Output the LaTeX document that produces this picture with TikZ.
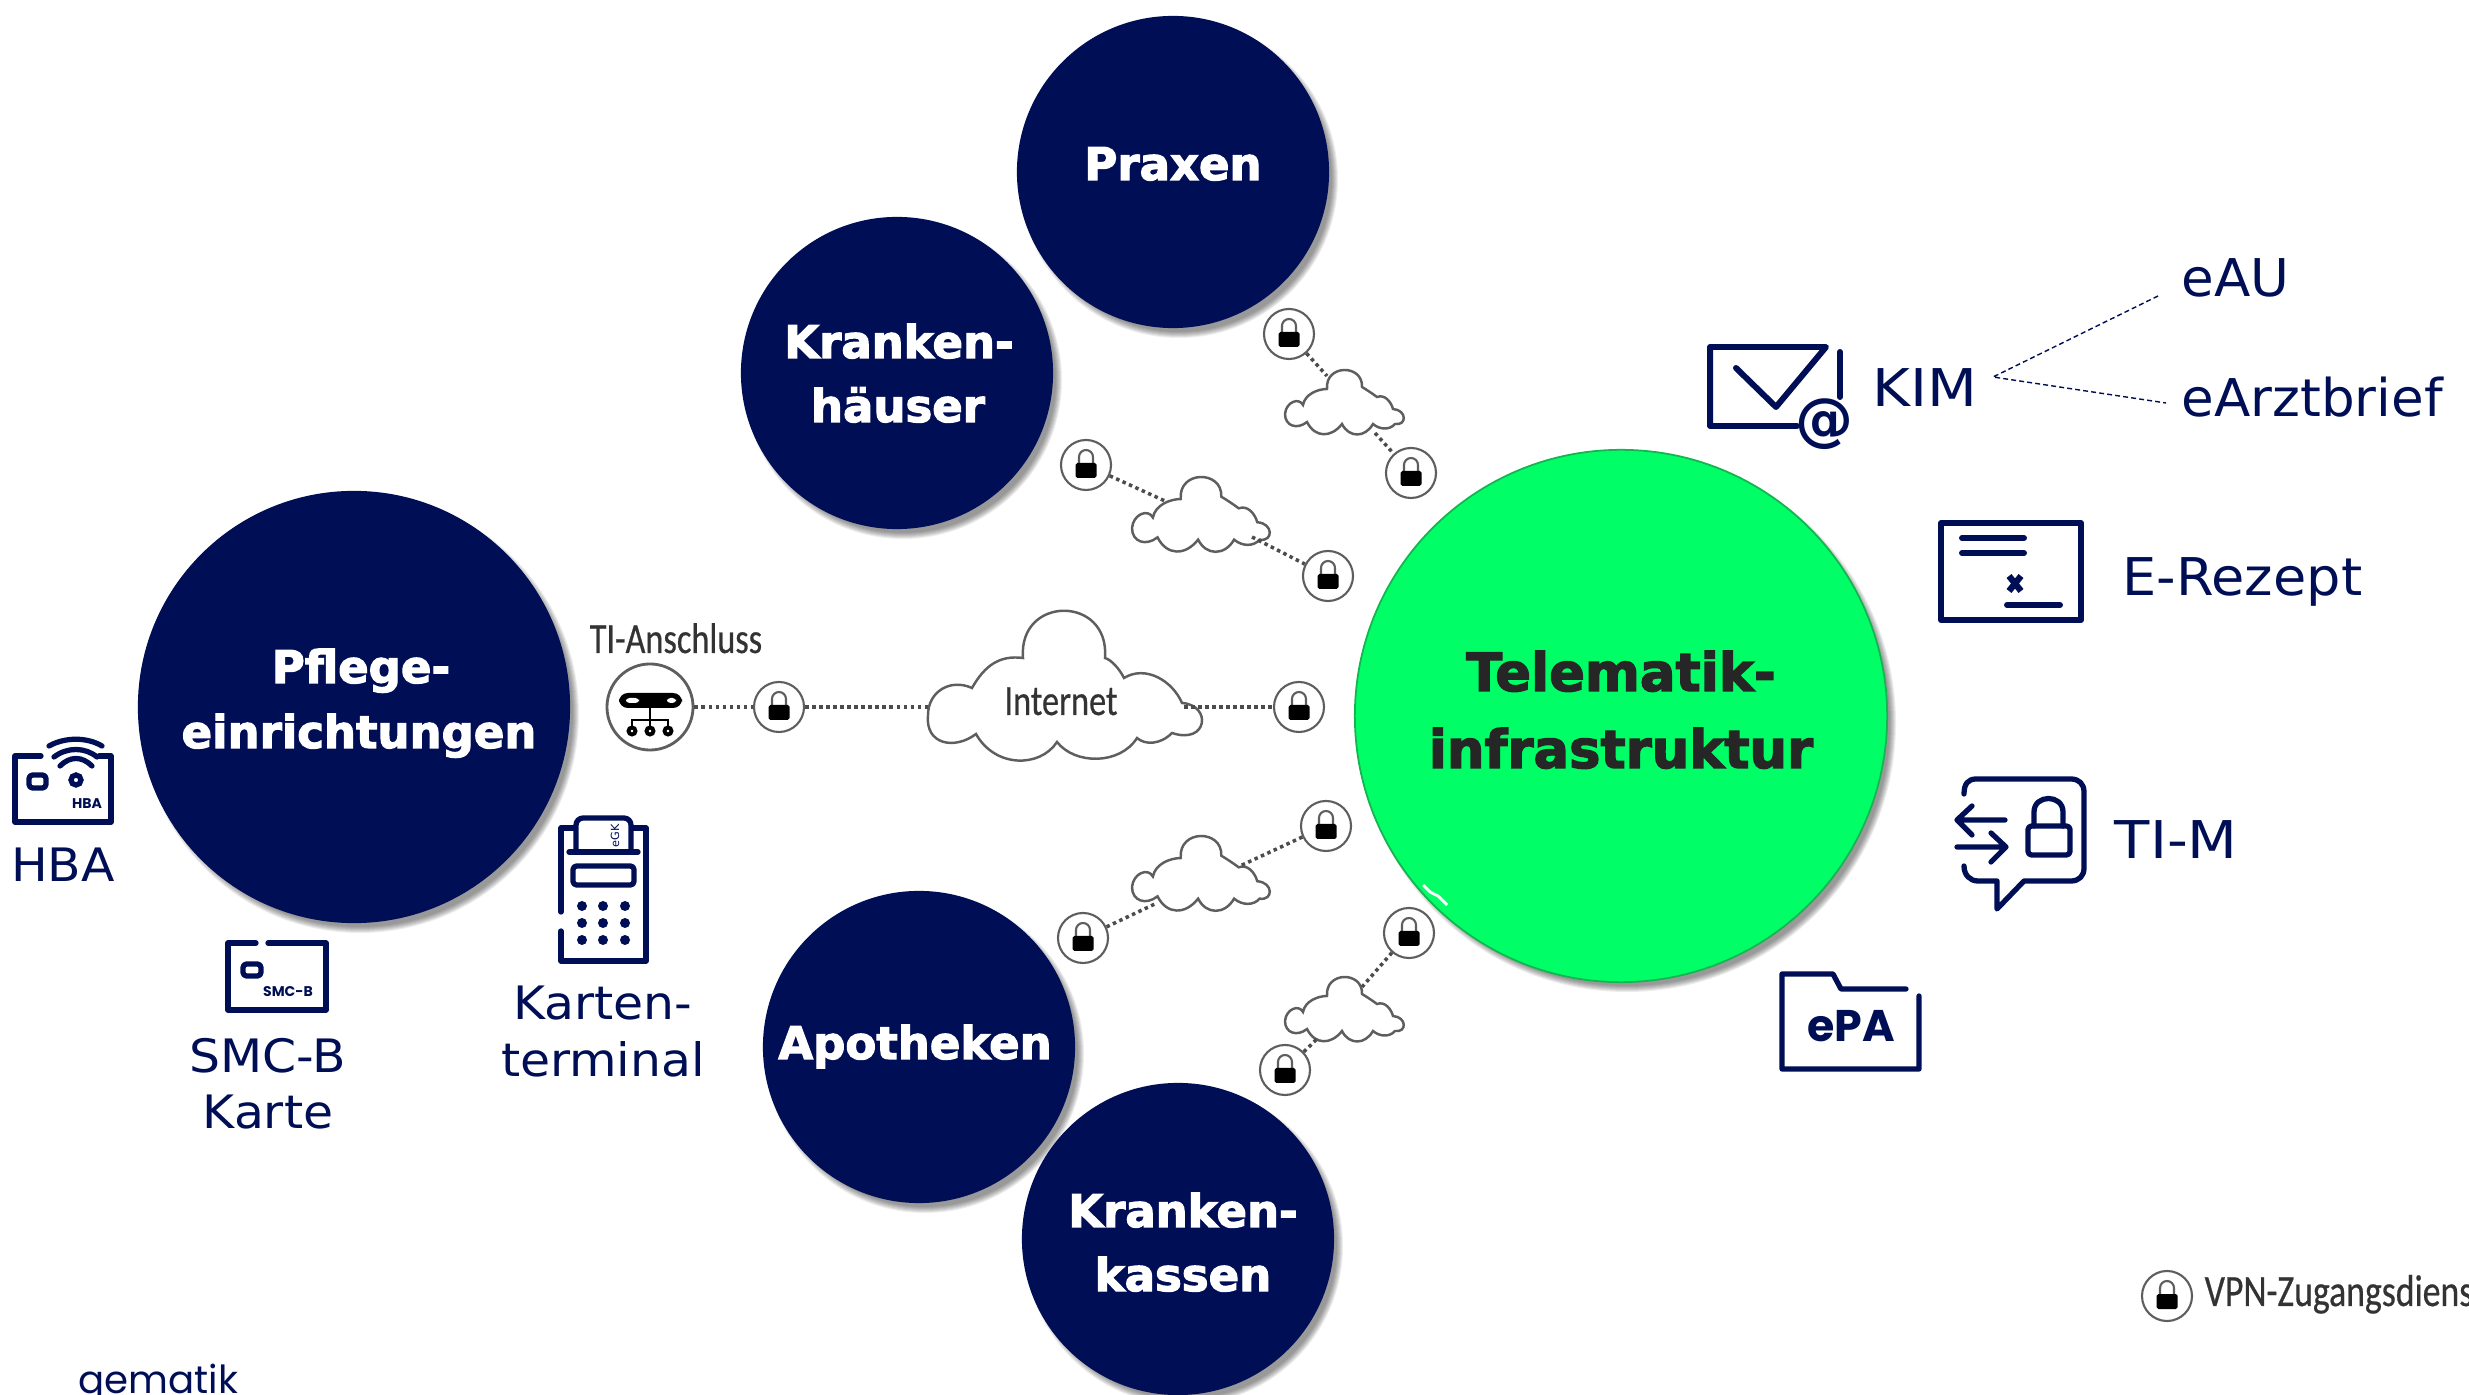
\documentclass[tikz,border=0pt]{standalone}
\usepackage{fontspec}
\setmainfont{DejaVu Sans}
\newfontfamily\heavy[BoldFeatures={FakeBold=2.6}]{DejaVu Sans}
\newfontfamily\blur[FakeStretch=0.8,FakeBold=0.5]{Carlito}
\newfontfamily\pop{Poppins}
\newfontfamily\vera[FakeStretch=1.06]{DejaVu Sans}
\newfontfamily\veraw[FakeStretch=1.11]{DejaVu Sans}
\newfontfamily\veran[FakeStretch=1.02]{DejaVu Sans}
\newfontfamily\verae[FakeStretch=1.04]{DejaVu Sans}
\usetikzlibrary{calc}
\definecolor{navy}{HTML}{000F55}
\definecolor{tigreen}{HTML}{00FF66}
\definecolor{tiedge}{HTML}{14B450}
\definecolor{ring}{HTML}{5E5E5E}
\tikzset{
  navycirc/.style={circle,fill=navy,inner sep=0pt},
  greencirc/.style={circle,fill=tigreen,draw=tiedge,line width=.5pt,inner sep=0pt},
  base/.style={anchor=base,inner sep=0pt},
  wt/.style={base,text=white,font=\fontsize{12.8}{15}\selectfont\heavy\bfseries},
  dt/.style={base,text=black!85,font=\fontsize{15}{18}\selectfont\heavy\bfseries},
  lbl/.style={base,text=navy,font=\fontsize{13.1}{15}\selectfont\vera},
  lbr/.style={base,text=navy,font=\fontsize{14.8}{17}\selectfont\verae},
  lbw/.style={base,text=navy,font=\fontsize{14.8}{17}\selectfont\veraw},
  lbn/.style={base,text=navy,font=\fontsize{14.8}{17}\selectfont\veran},
  small/.style={base,text=navy,font=\fontsize{4}{5}\selectfont\pop\bfseries},
  grayt/.style={base,text=black!80,font=\fontsize{12.2}{14}\selectfont\blur},
  ringnode/.style={circle,draw=ring,line width=.6pt,fill=white,inner sep=0pt,minimum size=.5cm},
  dots/.style={draw=black!70,line width=1pt,dash pattern=on 1pt off 1pt},
  cloudline/.style={draw=ring,line width=.7pt,fill=white},
  icon/.style={draw=navy,line width=1.5pt,line cap=round,line join=round},
  iconb/.style={draw=navy,line width=1.7pt,line cap=round,line join=round},
  kimline/.style={draw=navy,line width=.4pt,dash pattern=on 1.4pt off .9pt},
}
\newcommand\softshadow[3]{%
  \foreach \i in {0,1,2,3,4,5,6}{\fill[black,opacity=.07] (#1+6,#2+7) circle[radius=#3+3-\i];}}
\newcommand\locknode[3]{%
  \node[ringnode] (#1) at (#2,#3) {};
  \draw[ring,line width=.6pt] ($(#1)+(-7,0)$) -- ++(0,-8) arc[start angle=180,end angle=360,x radius=7,y radius=7] -- ++(0,8);
  \fill[black,rounded corners=.5pt] ($(#1)+(-10.5,-2)$) rectangle ($(#1)+(10.5,13)$);}
\newcommand\smallcloud[3]{%
  \begin{scope}[shift={(#1,#2)},xscale=#3,yscale=#3]
  \path[cloudline] (0,44) .. controls (1,32) and (14,27) .. (18,35)
    .. controls (20,24) and (33,19) .. (42,19)
    .. controls (40,-6) and (78,-6) .. (77,17)
    .. controls (82,20) and (88,24) .. (92,27)
    .. controls (100,24) and (106,32) .. (108,39)
    .. controls (122,40) and (122,56) .. (110,54)
    .. controls (105,60) and (95,60) .. (88,54)
    .. controls (80,68) and (64,68) .. (57,54)
    .. controls (46,68) and (30,68) .. (22,52)
    .. controls (12,60) and (0,56) .. cycle;
  \end{scope}}
\begin{document}
\begin{tikzpicture}[x=0.01cm,y=-0.01cm]
\useasboundingbox (0,0) rectangle (2469,1395);
\clip (0,0) rectangle (2469,1395);

% shadows and circles
\softshadow{1173}{172}{156}
\softshadow{897}{373}{156}
\softshadow{354}{707}{216}
\softshadow{919}{1047}{156}
\softshadow{1178}{1239}{156}
\softshadow{1621}{716}{266}
\node[navycirc,minimum size=3.12cm] (praxen) at (1173,172) {};
\node[navycirc,minimum size=3.12cm] (khaus) at (897,373) {};
\node[navycirc,minimum size=4.32cm] (pflege) at (354,707) {};
\node[navycirc,minimum size=3.12cm] (apo) at (919,1047) {};
\node[navycirc,minimum size=3.12cm] (kasse) at (1178,1239) {};
\node[greencirc,minimum size=5.32cm] (ti) at (1621,716) {};
\draw[white,line width=.8pt] (1423,885) -- (1430,892) -- (1438,896) -- (1447,905);

\node[wt] (t1) at (1173,180) {Praxen};
\node[wt] (t2) at (899,358) {Kranken-};
\node[wt] (t3) at (898,422) {häuser};
\node[wt] (t4) at (361,683) {Pflege-};
\node[wt] (t5) at (359,748) {einrichtungen};
\node[wt] (t6) at (915,1059) {Apotheken};
\node[wt] (t7) at (1183,1227) {Kranken-};
\node[wt] (t8) at (1183,1291) {kassen};
\node[dt] (t9) at (1621,691) {Telematik-};
\node[dt] (t10) at (1621,768) {infrastruktur};

% small clouds
\smallcloud{1285}{370}{1}
\smallcloud{1132}{477}{1.16}
\smallcloud{1132}{836}{1.16}
\smallcloud{1285}{977}{1}
\coordinate (c1a) at (1327,376);
\coordinate (c1b) at (1375,433);
\coordinate (c2a) at (1165,501);
\coordinate (c2b) at (1252,537);
\coordinate (c3a) at (1240,866);
\coordinate (c3b) at (1157,903);
\coordinate (c4a) at (1362,987);
\coordinate (c4b) at (1317,1039);
\locknode{l1}{1289}{334}
\locknode{l2}{1411}{473}
\locknode{l3}{1086}{465}
\locknode{l4}{1328}{576}
\locknode{l5}{1326}{826}
\locknode{l6}{1083}{938}
\locknode{l7}{1409}{933}
\locknode{l8}{1285}{1070}
\draw[dots] (l1) -- (c1a);
\draw[dots] (c1b) -- (l2);
\draw[dots] (l3) -- (c2a);
\draw[dots] (c2b) -- (l4);
\draw[dots] (l5) -- (c3a);
\draw[dots] (l6) -- (c3b);
\draw[dots] (l7) -- (c4a);
\draw[dots] (l8) -- (c4b);

% internet row
\path[cloudline] (928,715) .. controls (928,692) and (950,678) .. (972,688)
  .. controls (985,665) and (1000,655) .. (1023,658)
  .. controls (1018,595) and (1110,595) .. (1105,658)
  .. controls (1112,660) and (1120,670) .. (1124,678)
  .. controls (1145,665) and (1172,680) .. (1182,703)
  .. controls (1212,705) and (1208,745) .. (1172,733)
  .. controls (1160,745) and (1145,745) .. (1137,738)
  .. controls (1120,765) and (1075,765) .. (1057,742)
  .. controls (1040,768) and (995,768) .. (976,734)
  .. controls (955,750) and (925,745) .. cycle;
\node[grayt] (inet) at (1061,715) {Internet};
\node[grayt,anchor=base west] (tia) at (589,653) {TI-Anschluss};
\node[circle,draw=ring,line width=.8pt,fill=white,inner sep=0pt,minimum size=.86cm] (tinode) at (650,707) {};
\fill[black,rounded corners=2.5pt] (619,693) rectangle (682,708);
\fill[white,rounded corners=1pt] (626,698) rectangle (639,703);
\fill[white,rounded corners=1pt] (667,698) rectangle (676,703);
\draw[black,line width=.8pt] (650,708) -- (650,731) (632,731) -- (632,720) -- (668,720) -- (668,731);
\foreach \xx in {632,650,668}{\draw[black,line width=1.1pt,fill=white] (\xx,731) circle[radius=3.5];}
\locknode{la}{779}{707}
\locknode{lb}{1299}{707}
\coordinate (ia) at (929,707);
\coordinate (ib) at (1184,707);
\draw[dots] (tinode) -- (la);
\draw[dots] (la) -- (ia);
\draw[dots] (ib) -- (lb);

% legend
\locknode{lv}{2167}{1296}
\node[grayt,anchor=base west,font=\fontsize{12.7}{15}\selectfont\blur] (vpn) at (2204,1306) {VPN-Zugangsdienst};

% HBA
\draw[icon] (41,756) -- (15,756) -- (15,822) -- (111,822) -- (111,756) -- (99,756);
\draw[icon] (49,746) .. controls (65,737) and (87,737) .. (102,746);
\draw[icon] (54,757) .. controls (67,747) and (85,747) .. (97,757);
\draw[icon] (60,766) .. controls (70,756) and (82,756) .. (92,766);
\draw[icon,rounded corners=1pt] (29,775) rectangle (46,788);
\draw[navy,line width=1.5pt] (76,780) circle[radius=5];
\node[small] (hbas) at (87,809) {HBA};
\node[lbl] (hba) at (63,882) {HBA};

% SMC-B
\draw[icon] (256,943) -- (228,943) -- (228,1010) -- (326,1010) -- (326,943) -- (268,943);
\draw[icon,rounded corners=1pt] (243,964) rectangle (261,976);
\node[small] (smcs) at (288,997) {SMC-B};
\node[lbl] (smc1) at (268,1073) {SMC-B};
\node[lbl] (smc2) at (268,1129) {Karte};

% Terminal
\draw[icon] (575,828) -- (561,828) -- (561,912);
\draw[icon] (561,931) -- (561,961) -- (646,961) -- (646,828) -- (632,828);
\draw[icon,rounded corners=2pt] (576,852) -- (576,818) -- (631,818) -- (631,852);
\draw[icon] (569,852) -- (638,852);
\draw[icon,rounded corners=1pt] (573,866) rectangle (634,885);
\foreach \xx in {582,603,625}{\foreach \yy in {906,923,940}{\fill[navy] (\xx,\yy) circle[radius=5];}}
\node[text=navy,inner sep=0pt,rotate=90,font=\fontsize{3.2}{4}\selectfont] (egk) at (615,836) {eGK};
\node[lbl] (kt1) at (603,1020) {Karten-};
\node[lbl] (kt2) at (603,1077) {terminal};

% KIM
\draw[iconb] (1797,426) -- (1710,426) -- (1710,347) -- (1826,347) -- (1776,407) -- (1736,368);
\draw[iconb] (1840,352) -- (1840,397);
\node[inner sep=0pt,text=navy,font=\fontsize{16.5}{18}\selectfont\bfseries] (at) at (1824,424) {@};
\node[lbw,anchor=base west] (kim) at (1872,407) {KIM};
\node[lbn,anchor=base west] (eau) at (2181,297) {eAU};
\node[lbn,anchor=base west] (ear) at (2181,417) {eArztbrief};
\coordinate (kimapex) at (1993,377);
\coordinate (kim1) at (2158,296);
\coordinate (kim2) at (2166,403);
\draw[kimline] (kim1) -- (kimapex) -- (kim2);

% E-Rezept
\draw[iconb] (1941,523) rectangle (2081,620);
\draw[iconb] (1962,538) -- (2024,538);
\draw[iconb] (1962,553) -- (2024,553);
\draw[navy,line width=1.8pt] (2009,576) -- (2021,591) (2021,576) -- (2009,591);
\draw[iconb] (2007,605) -- (2060,605);
\node[lbr,anchor=base west] (erez) at (2122,596) {E-Rezept};

% TI-M
\draw[icon] (1964,794) .. controls (1964,784) and (1968,779) .. (1976,779) -- (2071,779)
  .. controls (2079,779) and (2084,784) .. (2084,792) -- (2084,868)
  .. controls (2084,876) and (2079,881) .. (2071,881) -- (2024,881) -- (1997,909) -- (1997,881) -- (1978,881)
  .. controls (1970,881) and (1964,875) .. (1964,866);
\draw[icon] (2005,820) -- (1957,820) (1972,806) -- (1957,820) -- (1972,835);
\draw[icon] (1957,847) -- (2006,847) (1991,833) -- (2006,847) -- (1991,862);
\draw[icon,rounded corners=1pt] (2028,826) rectangle (2070,855);
\draw[icon] (2034,826) -- (2034,812) .. controls (2034,794) and (2063,794) .. (2063,812) -- (2063,826);
\node[lbw,anchor=base west] (tim) at (2114,859) {TI-M};

% ePA
\draw[icon] (1919,996) -- (1919,1069) -- (1782,1069) -- (1782,974) -- (1833,974) -- (1841,989) -- (1906,989);
\node[base,text=navy,font=\fontsize{12.6}{14}\selectfont\pop\bfseries] (epa) at (1851,1042) {ePA};

% gematik
\node[base,anchor=base west,text=navy,font=\fontsize{11}{13}\selectfont\pop] (gem) at (78,1393) {gematik};
\end{tikzpicture}
\end{document}
